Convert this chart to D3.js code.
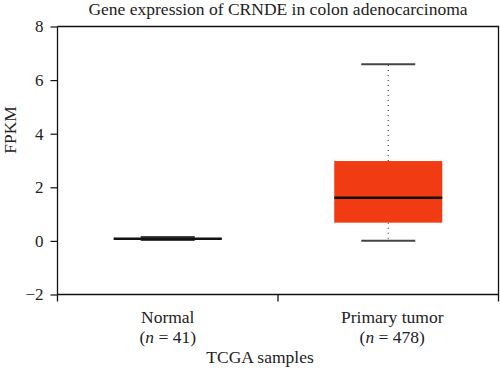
<!DOCTYPE html>
<html>
<head>
<meta charset="utf-8">
<script src="https://cdn.jsdelivr.net/npm/d3@7"></script>
<style>
  body { margin: 0; background: #fff; }
</style>
</head>
<body>
<div id="chart"></div>
<script>
// data
const categories = ["Normal", "Primary tumor"];
const sampleCounts = [41, 478];
const whiskerLow = [0.03, 0.01];
const q1 = [0.06, 0.68];
const median = [0.08, 1.61];
const q3 = [0.11, 2.98];
const whiskerHigh = [0.15, 6.59];
const boxColors = ["#666666", "#f13c13"];
const yTicks = [-2, 0, 2, 4, 6, 8];

const width = 500, height = 374;
const margin = { top: 26.5, right: 1.5, bottom: 79.5, left: 57.5 };
const font = "'Liberation Serif', serif";

const svg = d3.select("#chart")
  .append("svg")
  .attr("width", width)
  .attr("height", height)
  .style("font-family", font);

const x = d3.scaleBand()
  .domain(categories)
  .range([margin.left, width - margin.right])
  .padding(0);

const y = d3.scaleLinear()
  .domain([-2, 8])
  .range([height - margin.bottom, margin.top]);

// frame: top and right lines
svg.append("path")
  .attr("d", `M${margin.left},${margin.top}H${width - margin.right}V${height - margin.bottom + 7}`)
  .attr("fill", "none")
  .attr("stroke", "#111")
  .attr("stroke-width", 1.3);

// y axis
const yAxis = svg.append("g")
  .attr("transform", `translate(${margin.left},0)`)
  .call(d3.axisLeft(y).tickValues(yTicks).tickSize(7).tickSizeOuter(0).tickPadding(7)
    .tickFormat(d => d < 0 ? "\u2212" + Math.abs(d) : d));
yAxis.attr("font-family", null).attr("font-size", null);
yAxis.select(".domain").attr("stroke", "#111").attr("stroke-width", 1.3)
  .attr("d", `M0,${y(8)}V${y(-2) + 7}`);
yAxis.selectAll(".tick line").attr("stroke", "#111").attr("stroke-width", 1.2);
yAxis.selectAll("text")
  .style("font-family", font).style("font-size", "17px").attr("fill", "#222");

// x axis
const xAxis = svg.append("g")
  .attr("transform", `translate(0,${y(-2)})`);
xAxis.append("line")
  .attr("x1", margin.left).attr("x2", width - margin.right)
  .attr("stroke", "#111").attr("stroke-width", 1.3);
xAxis.selectAll(".xtick")
  .data(categories.slice(1))
  .join("line")
  .attr("x1", d => x(d)).attr("x2", d => x(d))
  .attr("y1", 0).attr("y2", 7)
  .attr("stroke", "#111").attr("stroke-width", 1.3);

const lab = svg.append("g").selectAll("text")
  .data(categories)
  .join("text")
  .attr("text-anchor", "middle")
  .attr("fill", "#222")
  .style("font-size", "17.5px");
lab.append("tspan")
  .attr("x", (d, i) => x(d) + x.bandwidth() / 2 + (i ? 4 : 0))
  .attr("y", 323)
  .text(d => d);
lab.append("tspan")
  .attr("x", (d, i) => x(d) + x.bandwidth() / 2 + (i ? 4 : 0))
  .attr("y", 343)
  .html((d, i) => `(<tspan font-style="italic">n</tspan> = ${sampleCounts[i]})`);

svg.append("text")
  .attr("x", 260).attr("y", 363)
  .attr("text-anchor", "middle")
  .attr("fill", "#222")
  .style("font-size", "17.5px")
  .text("TCGA samples");

svg.append("text")
  .attr("transform", `translate(16,130) rotate(-90)`)
  .attr("text-anchor", "middle")
  .attr("fill", "#222")
  .style("font-size", "17.5px")
  .text("FPKM");

svg.append("text")
  .attr("x", 278).attr("y", 15)
  .attr("text-anchor", "middle")
  .attr("fill", "#222")
  .style("font-size", "17.5px")
  .text("Gene expression of CRNDE in colon adenocarcinoma");

// boxes
const boxW = x.bandwidth() * 0.49;
const capW = boxW / 2;
const g = svg.append("g").selectAll("g")
  .data(categories)
  .join("g")
  .attr("transform", d => `translate(${x(d) + x.bandwidth() / 2},0)`);

g.append("line")
  .attr("y1", (d, i) => y(q3[i])).attr("y2", (d, i) => y(whiskerHigh[i]))
  .attr("stroke", "#444").attr("stroke-width", 1.2).attr("stroke-dasharray", "1,4");
g.append("line")
  .attr("y1", (d, i) => y(q1[i])).attr("y2", (d, i) => y(whiskerLow[i]))
  .attr("stroke", "#444").attr("stroke-width", 1.2).attr("stroke-dasharray", "1,4");
g.append("line")
  .attr("x1", -capW / 2).attr("x2", capW / 2)
  .attr("y1", (d, i) => y(whiskerHigh[i])).attr("y2", (d, i) => y(whiskerHigh[i]))
  .attr("stroke", "#444").attr("stroke-width", 2);
g.append("line")
  .attr("x1", -capW / 2).attr("x2", capW / 2)
  .attr("y1", (d, i) => y(whiskerLow[i])).attr("y2", (d, i) => y(whiskerLow[i]))
  .attr("stroke", "#444").attr("stroke-width", 2);
g.append("rect")
  .attr("x", -boxW / 2).attr("width", boxW)
  .attr("y", (d, i) => y(q3[i]))
  .attr("height", (d, i) => y(q1[i]) - y(q3[i]))
  .attr("fill", (d, i) => boxColors[i]);
g.append("line")
  .attr("x1", -boxW / 2).attr("x2", boxW / 2)
  .attr("y1", (d, i) => y(median[i])).attr("y2", (d, i) => y(median[i]))
  .attr("stroke", "#111").attr("stroke-width", 2.5);
</script>
</body>
</html>
